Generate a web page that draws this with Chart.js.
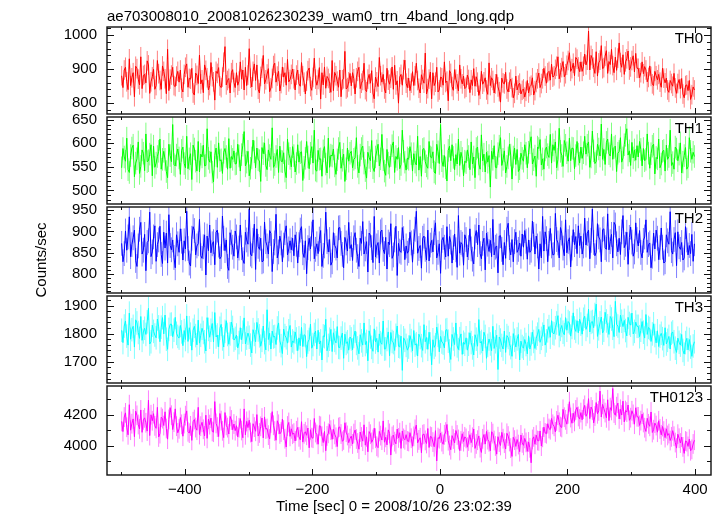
<!DOCTYPE html>
<html><head><meta charset="utf-8">
<script src="https://cdn.jsdelivr.net/npm/chart.js@4.4.0/dist/chart.umd.min.js"></script>
<style>
html,body{margin:0;padding:0;background:#fff;}
#wrap{position:relative;width:723px;height:516px;overflow:hidden;font-family:"Liberation Sans",Arial,sans-serif;color:#000;}
canvas{position:absolute;left:0;}
.t{position:absolute;font-size:15px;line-height:15px;white-space:nowrap;}
</style></head><body><div id="wrap">
<div class="t" style="left:107px;top:8px">ae703008010_20081026230239_wam0_trn_4band_long.qdp</div>
<div class="t" style="left:276px;top:498px">Time [sec] 0 = 2008/10/26 23:02:39</div>
<div class="t" style="left:3px;top:252px;width:76px;height:16px;line-height:16px;text-align:center;transform:rotate(-90deg)">Counts/sec</div>
</div>
<script>
// ---- data ----
const timeStart = -499;   // s, first bin
const binWidth = 2;       // s
const xTicks = [-400, -200, 0, 200, 400];
const panelNames = ["TH0", "TH1", "TH2", "TH3", "TH0123"];
const th0Ticks = [800, 900, 1000];
const th1Ticks = [500, 550, 600, 650];
const th2Ticks = [800, 850, 900, 950];
const th3Ticks = [1700, 1800, 1900];
const th0123Ticks = [4000, 4200];

const th0 = [
880,845,897,905,862,839,930,851,874,889,818,908,901,870,853,936,842,881,884,859,924,912,828,862,877,899,840,851,925,886,866,840,909,893,871,827,958,836,870,882,905,851,848,879,893,
861,897,843,832,884,905,915,846,872,870,902,829,823,888,881,857,941,856,868,830,912,896,874,838,851,919,877,862,808,893,887,904,850,845,876,920,966,853,866,872,829,889,898,860,845,
889,852,864,921,870,897,838,905,851,882,960,873,847,893,915,866,912,840,829,878,902,940,856,868,885,901,833,844,872,910,917,861,879,893,835,857,906,876,889,852,928,862,869,884,900,
871,838,882,897,856,849,919,880,861,826,864,895,903,848,837,875,932,870,852,869,904,811,889,853,906,843,878,872,858,831,925,836,890,880,864,846,897,818,868,871,952,841,845,862,887,
850,889,871,826,874,893,905,842,858,866,917,839,833,870,884,858,895,829,812,876,862,848,934,880,861,884,841,829,902,867,855,873,906,840,911,853,865,799,876,884,852,898,926,858,845,
873,836,858,892,851,880,917,866,843,829,883,869,858,947,826,842,870,891,812,889,851,861,905,832,838,876,874,852,921,860,864,806,895,887,848,837,898,870,856,835,912,871,856,879,842,
846,882,869,830,868,851,901,849,877,861,822,840,893,855,862,874,838,825,918,851,874,866,829,856,884,847,833,802,873,859,856,890,841,832,861,870,845,815,828,879,838,852,858,826,837,
841,817,834,866,829,848,852,874,823,836,860,871,888,845,857,871,902,879,858,889,893,867,914,876,880,899,908,936,871,889,904,922,877,886,911,925,948,893,901,917,880,934,929,906,892,
921,893,908,944,912,926,1012,897,940,930,905,887,951,879,918,926,969,901,904,938,954,887,922,913,958,910,889,935,896,932,977,919,905,942,884,921,930,953,897,906,925,939,891,946,902,
902,874,889,921,886,907,897,862,875,909,878,856,851,893,880,868,884,861,846,902,873,859,873,838,831,866,857,849,887,844,828,857,869,842,872,826,815,851,853,836,866,810,824,847,838
];
const th1 = [
548,589,571,562,611,544,538,574,590,596,529,558,567,603,536,551,586,579,542,620,561,563,577,597,531,594,549,558,572,583,609,545,566,583,566,540,527,598,574,561,640,555,552,575,588,
569,534,585,592,557,548,615,546,567,578,523,596,588,562,541,604,539,577,571,596,552,553,631,568,560,582,539,518,574,590,549,601,563,565,536,581,589,572,545,610,547,572,566,584,556,
557,598,573,541,576,596,625,552,560,583,531,547,569,607,582,548,590,565,563,519,591,578,601,553,544,586,574,566,633,549,555,572,587,538,594,562,561,580,541,527,609,578,568,550,593,
574,539,557,597,560,580,582,521,549,568,604,571,546,579,593,558,628,543,541,585,566,567,530,584,593,556,537,611,549,575,573,588,552,534,565,589,602,547,564,577,519,546,590,562,579,
583,548,566,569,612,551,537,575,589,594,558,542,526,581,570,563,606,548,540,571,584,598,552,567,619,565,541,532,587,558,549,574,595,603,538,572,566,591,546,555,628,583,560,543,569,
566,593,578,541,578,560,554,615,543,572,530,587,589,561,552,547,604,571,569,582,539,536,598,582,557,640,563,551,574,548,520,585,594,563,597,570,544,576,556,609,553,581,568,531,562,
559,586,572,544,603,556,571,527,589,592,556,545,618,563,577,539,581,560,574,507,583,566,595,549,548,578,594,612,553,566,584,537,551,569,598,575,524,571,590,555,587,540,546,579,568,
562,597,579,548,581,601,614,556,565,573,530,592,589,608,554,567,545,586,592,576,570,619,558,597,585,603,548,566,632,583,574,551,606,596,580,562,611,563,590,589,546,574,604,577,558,
592,568,580,615,577,596,603,549,571,626,584,557,561,598,588,573,641,566,587,555,602,609,578,573,620,566,591,594,540,579,583,612,560,569,597,617,631,575,584,553,602,569,586,564,595,
571,604,587,552,589,563,566,620,579,547,578,594,598,535,570,567,609,548,556,583,585,541,596,566,572,628,553,559,545,592,588,563,577,601,537,560,574,591,545,550,612,583,566,581,572
];
const th2 = [
872,829,848,901,856,887,934,841,869,885,903,832,818,866,905,921,847,856,893,808,874,878,945,841,852,887,913,830,869,880,912,846,825,898,861,896,826,939,867,857,880,839,815,892,871,
851,906,877,833,878,859,947,860,826,819,884,911,902,845,866,871,928,843,837,864,892,798,889,855,915,850,871,876,822,898,903,868,836,841,936,884,855,880,818,809,897,875,863,842,901,
887,838,861,915,862,834,825,898,880,870,952,847,843,879,917,811,906,865,858,884,829,831,922,876,866,847,902,895,806,853,873,940,838,852,889,873,829,868,897,913,845,859,878,857,884,
843,892,870,826,869,903,911,850,839,878,801,862,884,859,894,927,836,858,871,848,882,902,818,844,866,945,876,852,881,821,829,897,867,861,838,908,909,872,846,815,886,873,854,921,860,
869,832,885,897,856,841,818,884,872,923,847,859,876,805,896,891,862,827,935,840,866,874,826,899,903,858,848,886,812,875,869,918,837,845,880,912,797,872,854,851,909,883,834,866,849,
855,898,873,828,876,905,947,849,860,867,814,884,889,858,833,903,831,868,879,852,897,920,838,851,871,802,879,886,863,840,911,842,888,875,826,862,894,857,816,937,849,874,870,821,892,
881,840,862,906,859,835,824,887,902,869,915,848,836,872,884,810,896,870,853,879,841,928,845,863,866,803,889,890,858,822,874,837,905,919,862,845,881,829,876,898,851,858,873,842,894,
863,902,877,835,880,851,856,924,893,847,889,866,812,871,838,935,854,899,883,829,872,907,866,845,846,942,881,873,838,909,896,861,843,927,850,876,885,817,861,904,869,888,848,913,867,
889,847,866,931,868,895,903,836,879,952,874,843,851,918,887,880,829,904,906,862,858,941,857,876,893,838,921,915,871,852,884,846,899,937,862,870,898,823,886,910,875,842,852,920,881,
866,902,851,838,879,887,927,851,869,873,815,842,896,859,903,884,834,862,908,863,826,829,892,878,870,946,855,847,881,897,820,899,864,858,874,833,838,911,880,845,867,848,893,830,871
];
const th3 = [
1812,1768,1827,1845,1791,1759,1873,1780,1814,1826,1752,1849,1838,1804,1783,1861,1776,1806,1819,1797,1842,1890,1763,1771,1830,1808,1795,1785,1852,1824,1771,1823,1857,1799,1866,1780,1744,1815,1833,1834,1789,1812,1858,1801,1790,
1784,1829,1806,1757,1811,1779,1863,1772,1821,1798,1741,1812,1826,1793,1760,1848,1766,1794,1819,1804,1771,1738,1857,1815,1787,1812,1836,1770,1875,1788,1795,1753,1819,1833,1781,1752,1808,1846,1797,1762,1799,1841,1822,1777,1783,
1795,1749,1768,1821,1778,1805,1856,1763,1784,1802,1787,1759,1731,1814,1797,1771,1840,1813,1792,1755,1776,1827,1768,1742,1885,1779,1801,1745,1809,1788,1790,1761,1820,1838,1774,1757,1729,1816,1793,1785,1766,1810,1829,1752,1774,
1768,1806,1781,1739,1785,1757,1822,1754,1796,1793,1718,1770,1779,1834,1748,1761,1797,1809,1745,1812,1763,1774,1706,1792,1789,1851,1739,1758,1780,1815,1736,1803,1776,1767,1825,1751,1750,1784,1802,1712,1798,1765,1771,1741,1788,
1781,1742,1790,1809,1765,1749,1728,1796,1774,1759,1838,1761,1772,1703,1810,1788,1751,1737,1817,1770,1783,1734,1799,1768,1762,1845,1745,1746,1779,1806,1721,1804,1772,1768,1740,1794,1827,1755,1753,1791,1669,1785,1776,1758,1741,
1752,1793,1775,1738,1811,1759,1764,1720,1798,1786,1757,1740,1832,1771,1786,1744,1805,1763,1689,1778,1751,1760,1823,1794,1735,1790,1770,1766,1749,1812,1814,1773,1738,1708,1797,1781,1761,1838,1756,1743,1782,1799,1726,1769,1762,
1785,1741,1762,1803,1768,1749,1724,1796,1780,1755,1850,1767,1772,1738,1805,1790,1712,1758,1781,1763,1739,1826,1747,1771,1794,1672,1788,1777,1758,1745,1809,1733,1793,1786,1764,1750,1719,1800,1776,1752,1781,1797,1706,1773,1754,
1748,1779,1761,1728,1792,1745,1763,1805,1772,1747,1784,1798,1815,1769,1783,1798,1831,1759,1774,1810,1825,1787,1846,1802,1799,1821,1838,1864,1793,1815,1829,1805,1796,1857,1812,1843,1838,1791,1822,1874,1820,1808,1846,1803,1851,
1834,1798,1851,1862,1815,1829,1887,1806,1840,1843,1821,1868,1905,1790,1817,1838,1859,1802,1812,1876,1845,1828,1797,1861,1852,1819,1789,1915,1833,1827,1804,1866,1844,1825,1847,1811,1792,1858,1836,1830,1873,1799,1808,1841,1826,
1826,1789,1812,1843,1805,1784,1868,1797,1822,1818,1772,1799,1835,1793,1767,1810,1754,1791,1801,1782,1758,1821,1763,1776,1790,1745,1801,1806,1771,1748,1733,1784,1769,1759,1797,1740,1727,1768,1783,1742,1779,1752,1719,1756,1771
];
const th0123 = [
4158,4092,4186,4213,4120,4071,4266,4101,4143,4174,4059,4224,4197,4138,4109,4232,4087,4168,4181,4149,4095,4295,4066,4201,4162,4208,4129,4113,4249,4057,4079,4185,4176,4131,4220,4112,4043,4171,4247,4198,4105,4153,4239,4127,4084,
4110,4183,4139,4062,4144,4195,4226,4091,4082,4129,4035,4156,4170,4118,4101,4249,4073,4127,4152,4107,4064,4198,4048,4172,4137,4179,4093,4088,4286,4145,4121,4060,4209,4163,4097,4053,4215,4132,4118,4076,4190,4167,4104,4141,4098,
4130,4058,4117,4176,4099,4052,4239,4071,4158,4118,4165,4086,4027,4143,4121,4094,4202,4063,4083,4126,4180,4051,4187,4108,4112,4069,4044,4148,4221,4133,4095,4036,4162,4139,4077,4089,4173,4102,4046,3992,4128,4151,4061,4110,4075,
4082,4031,4097,4119,4058,4039,4156,4024,4078,4091,4068,4115,3987,4104,4053,4049,4177,4086,4073,4010,4130,4126,4062,4021,4093,3968,4064,4081,4138,4101,4042,4107,4074,4055,3995,4118,4122,4076,4029,4038,4149,4088,4067,4020,4047,
4063,4012,4079,4102,4044,4018,3978,4089,4057,4030,4136,4004,4058,3961,4092,4075,4022,4041,4114,4049,3997,3988,4093,4066,4037,4161,4023,4055,4006,4103,4080,3940,4060,4069,4027,4013,4108,4051,4085,3983,4096,4048,4039,4072,4031,
4028,4085,4049,3997,4061,4106,4134,4019,4038,4052,3955,4072,4076,4035,4015,4112,3989,4061,4057,4024,3994,4098,3902,4053,4046,4083,4027,4010,4071,4089,4138,4033,4002,3975,4066,4044,4018,4099,4070,4041,3969,4031,4078,4027,4058,
4048,3991,4031,4072,4020,4055,4109,3983,4012,4036,4064,3988,3957,4045,4073,4011,4093,4040,4026,3968,4091,4079,4034,3999,3946,4059,4024,4002,4087,4046,4017,3979,4081,4063,4028,3985,3931,4055,4037,3996,4041,4008,3962,4070,4019,
4003,4048,4022,3964,4025,3987,3890,4041,4058,4010,4069,4034,4032,4096,3998,4055,4121,4083,4078,4143,4112,4104,4177,4139,4126,4090,4161,4198,4152,4124,4119,4236,4185,4168,4140,4207,4285,4183,4146,4211,4158,4232,4249,4190,4173,
4215,4168,4237,4262,4191,4209,4305,4176,4251,4232,4148,4193,4280,4207,4226,4354,4186,4268,4240,4215,4181,4298,4163,4247,4229,4371,4212,4198,4253,4276,4174,4236,4199,4289,4155,4228,4218,4264,4165,4182,4227,4203,4140,4246,4188,
4187,4132,4163,4205,4151,4117,4093,4178,4142,4126,4219,4086,4104,4147,4131,4088,4162,4109,4071,4125,4095,4053,4110,4067,4079,4034,4058,4098,4062,4021,3985,4075,4049,4018,4056,3993,3951,4031,4027,3996,4043,3968,3977,4012,4036
];
// 1-sigma error per bin for each band (counts/sec)
const th0Err = 29, th1Err = 24, th2Err = 29, th3Err = 42, th0123Err = 64;

// ---- layout / style ----
const FONT = '"Liberation Sans", Arial, sans-serif';
const X_MIN = -522, X_MAX = 425;
const PLOT_LEFT = 107, PLOT_RIGHT = 711;
const panels = [
  {name: panelNames[0], vals: th0, err: th0Err, color: '#ff0000', light: 'rgba(255,0,0,0.5)', min: 767, max: 1024, ticks: th0Ticks, minor: 20, top: 27, bottom: 117},
  {name: panelNames[1], vals: th1, err: th1Err, color: '#00ff00', light: 'rgba(0,255,0,0.5)', min: 471, max: 656, ticks: th1Ticks, minor: 10, top: 117, bottom: 207},
  {name: panelNames[2], vals: th2, err: th2Err, color: '#0000ff', light: 'rgba(0,0,255,0.5)', min: 756, max: 957, ticks: th2Ticks, minor: 10, top: 207, bottom: 296},
  {name: panelNames[3], vals: th3, err: th3Err, color: '#00ffff', light: 'rgba(0,255,255,0.5)', min: 1624, max: 1934, ticks: th3Ticks, minor: 20, top: 296, bottom: 386},
  {name: panelNames[4], vals: th0123, err: th0123Err, color: '#ff00ff', light: 'rgba(255,0,255,0.5)', min: 3811, max: 4387, ticks: th0123Ticks, minor: 100, top: 386, bottom: 475}
];

const errPlugin = {
  id: 'errbars',
  beforeDatasetsDraw(chart, args, opts) {
    const {ctx, chartArea: a, scales: {x, y}} = chart;
    const ds = chart.data.datasets[0];
    ctx.save();
    ctx.beginPath(); ctx.rect(a.left, a.top, a.width, a.height); ctx.clip();
    ctx.strokeStyle = opts.color; ctx.lineWidth = 1;
    ctx.beginPath();
    ds.data.forEach(p => {
      const px = x.getPixelForValue(p.x);
      ctx.moveTo(px, y.getPixelForValue(p.y - opts.err));
      ctx.lineTo(px, y.getPixelForValue(p.y + opts.err));
    });
    ctx.stroke();
    ctx.restore();
  }
};

const framePlugin = {
  id: 'frame',
  afterDraw(chart, args, opts) {
    const {ctx, chartArea: a, scales: {x, y}} = chart;
    ctx.save();
    ctx.strokeStyle = '#111'; ctx.lineWidth = 1;
    ctx.beginPath();
    const vt = (v, len) => {
      const px = Math.round(x.getPixelForValue(v)) + 0.5;
      ctx.moveTo(px, a.bottom); ctx.lineTo(px, a.bottom - len);
      ctx.moveTo(px, a.top); ctx.lineTo(px, a.top + len);
    };
    const ht = (v, len) => {
      const py = Math.round(y.getPixelForValue(v)) + 0.5;
      ctx.moveTo(a.left, py); ctx.lineTo(a.left + len, py);
      ctx.moveTo(a.right, py); ctx.lineTo(a.right - len, py);
    };
    for (let v = -500; v <= 400; v += 100) vt(v, xTicks.includes(v) ? 6 : 3);
    const st = opts.minor;
    for (let v = Math.ceil(opts.min / st) * st; v <= opts.max; v += st) ht(v, opts.ticks.includes(v) ? 7 : 4);
    ctx.stroke();
    ctx.lineWidth = 1.4;
    ctx.strokeRect(a.left, a.top, a.right - a.left, a.bottom - a.top);
    ctx.restore();
  }
};

const wrap = document.getElementById('wrap');
panels.forEach((p, k) => {
  const last = k === panels.length - 1;
  const padTop = 26, padBot = 16;
  const xH = 30;
  const h = padTop + (p.bottom - p.top) + (last ? xH : padBot);
  const cv = document.createElement('canvas');
  cv.width = 723; cv.height = h;
  cv.style.top = (p.top - padTop) + 'px';
  cv.style.width = '723px'; cv.style.height = h + 'px';
  wrap.insertBefore(cv, wrap.firstChild);

  const lab = document.createElement('div');
  lab.className = 't';
  lab.style.right = (723 - 703) + 'px';
  lab.style.top = (p.top + 3) + 'px';
  lab.textContent = p.name;
  wrap.appendChild(lab);

  const pts = p.vals.map((v, i) => ({x: timeStart + binWidth * i, y: v}));
  new Chart(cv, {
    type: 'line',
    data: {datasets: [{data: pts, borderColor: p.color, borderWidth: 1, pointRadius: 0, tension: 0, fill: false}]},
    options: {
      responsive: false, animation: false, devicePixelRatio: 1,
      layout: {padding: {left: 0, right: 723 - PLOT_RIGHT, top: padTop, bottom: last ? 0 : padBot}},
      plugins: {legend: {display: false}, tooltip: {enabled: false}, title: {display: false},
        errbars: {err: p.err, color: p.light},
        frame: {min: p.min, max: p.max, minor: p.minor, ticks: p.ticks}},
      scales: {
        x: {type: 'linear', min: X_MIN, max: X_MAX, display: last,
          grid: {display: false, drawTicks: false}, border: {display: false},
          ticks: {font: {family: FONT, size: 15}, color: '#000', padding: 6, maxRotation: 0, autoSkip: false,
                  callback: v => String(v).replace('-', '\u2212')},
          afterBuildTicks: s => { s.ticks = xTicks.map(v => ({value: v})); },
          afterFit: s => { if (last) s.height = xH; }},
        y: {type: 'linear', min: p.min, max: p.max,
          grid: {display: false, drawTicks: false}, border: {display: false},
          ticks: {font: {family: FONT, size: 15}, color: '#000', padding: 10, autoSkip: false,
                  callback: v => String(v)},
          afterBuildTicks: s => { s.ticks = p.ticks.map(v => ({value: v})); },
          afterFit: s => { s.width = PLOT_LEFT; }}
      }
    },
    plugins: [errPlugin, framePlugin]
  });
});
</script>
</body></html>
